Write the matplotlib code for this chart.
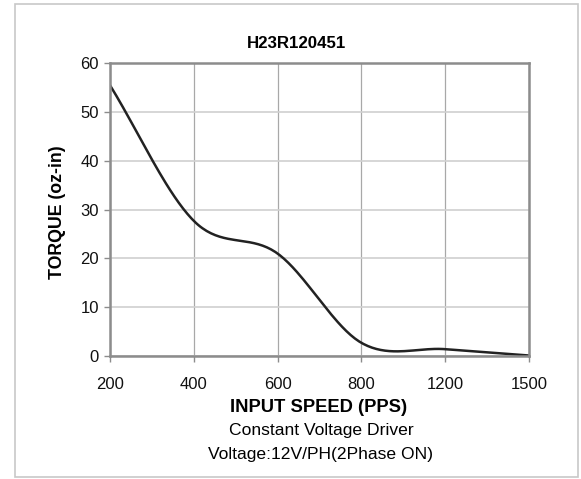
import numpy as np
import matplotlib.pyplot as plt
from matplotlib.patches import Rectangle

plt.rcParams['font.family'] = ['Liberation Sans', 'DejaVu Sans']

speed_labels = ["200", "400", "600", "800", "1200", "1500"]
torque = [55.5, 27.7, 21.0, 2.7, 1.4, 0.1]
y_ticks = [0, 10, 20, 30, 40, 50, 60]


def smooth(xs, ys, steps=40):
    # Catmull-Rom style smoothing, like a spreadsheet "smoothed line"
    xs = np.asarray(xs, float)
    ys = np.asarray(ys, float)
    n = len(ys)
    m = np.zeros(n)
    for i in range(n):
        if i == 0:
            m[i] = ys[1] - ys[0]
        elif i == n - 1:
            m[i] = ys[-1] - ys[-2]
        else:
            m[i] = (ys[i + 1] - ys[i - 1]) / 2
    out_x, out_y = [], []
    for i in range(n - 1):
        t = np.linspace(0, 1, steps)
        h00 = 2 * t**3 - 3 * t**2 + 1
        h10 = t**3 - 2 * t**2 + t
        h01 = -2 * t**3 + 3 * t**2
        h11 = t**3 - t**2
        out_x.append(xs[i] + t * (xs[i + 1] - xs[i]))
        out_y.append(h00 * ys[i] + h10 * m[i] + h01 * ys[i + 1] + h11 * m[i + 1])
    return np.concatenate(out_x), np.concatenate(out_y)


fig = plt.figure(figsize=(5.81, 4.79), dpi=100)
fig.patches.append(Rectangle((15 / 581, 2 / 479), 563 / 581, 473 / 479,
                             transform=fig.transFigure, fill=False,
                             edgecolor="#c8c8c8", linewidth=1.2))

ax = fig.add_axes([110 / 581, 1 - 356 / 479, 419 / 581, (356 - 63.3) / 479])
pos = np.arange(len(speed_labels))
sx, sy = smooth(pos, torque)
ax.plot(sx, sy, color="#222222", linewidth=1.8)

ax.set_xlim(0, len(speed_labels) - 1)
ax.set_ylim(0, 60)
ax.set_xticks(pos)
ax.set_xticklabels(speed_labels)
ax.set_yticks(y_ticks)
ax.grid(axis="y", color="#d0d0d0", linewidth=1.2)
ax.grid(axis="x", color="#a8a8a8", linewidth=0.9)
for s in ax.spines.values():
    s.set_color("#8c8c8c")
    s.set_linewidth(1.8)
ax.tick_params(axis="both", colors="#8c8c8c", length=4, width=1,
               labelcolor="#111111", labelsize=12)
ax.tick_params(axis="x", pad=11)
ax.tick_params(axis="y", pad=4)

fig.text(296 / 581, 1 - 43 / 479, "H23R120451", ha="center", va="center",
         fontsize=12.2, fontweight="bold")
fig.text(57 / 581, 1 - 212 / 479, "TORQUE (oz-in)", ha="center", va="center",
         rotation=90, fontsize=12.8, fontweight="bold")
fig.text(319 / 581, 1 - 407 / 479, "INPUT SPEED (PPS)", ha="center", va="center",
         fontsize=13.2, fontweight="bold")
fig.text(321 / 581, 1 - 431 / 479, "Constant Voltage Driver", ha="center", va="center",
         fontsize=12.6)
fig.text(321 / 581, 1 - 454 / 479, "Voltage:12V/PH(2Phase ON)", ha="center", va="center",
         fontsize=12.6)

fig.savefig("out.png", dpi=100)
